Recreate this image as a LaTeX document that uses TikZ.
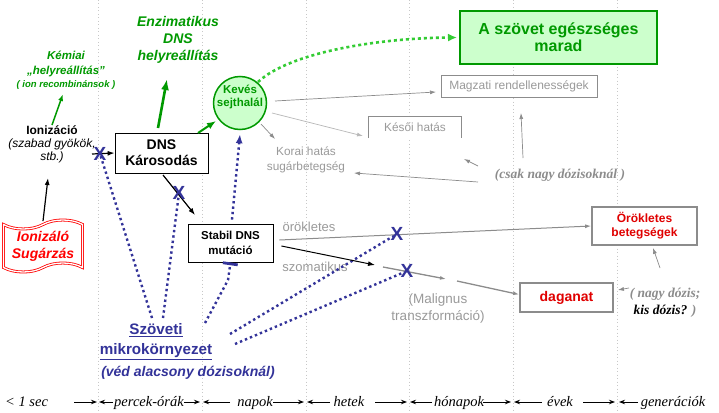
\documentclass[tikz,border=0pt]{standalone}
\usepackage{fontspec}
\setmainfont{Liberation Sans}
\newfontfamily\tmsfont{Liberation Serif}
\usetikzlibrary{arrows.meta,shapes.symbols}
\definecolor{gtext}{HTML}{009900}
\definecolor{lgreen}{HTML}{CCFFCC}
\definecolor{bgreen}{HTML}{33CC33}
\definecolor{dblue}{HTML}{333399}
\definecolor{gline}{HTML}{8C8C8C}
\definecolor{gtxt}{HTML}{9A9A9A}
\definecolor{vgr}{HTML}{C8C8C8}
\definecolor{rtxt}{HTML}{E00000}
\begin{document}
\begin{tikzpicture}[x=1pt,y=-1pt,
 vline/.style={draw=vgr,line width=0.7pt,dash pattern=on 1pt off 2.5pt},
 garrow/.style={draw=gline,line width=0.7pt,-{Latex[length=6pt,width=4pt]}},
 blkarrow/.style={draw=black,line width=1.2pt,-{Latex[length=7pt,width=5pt]}},
 grnarrow/.style={draw=gtext,line width=2pt,-{Latex[length=9pt,width=7pt]}},
 bdot/.style={draw=dblue,line width=2.4pt,dash pattern=on 2.4pt off 3pt},
 xmark/.style={text=dblue,font=\bfseries\fontsize{19}{19}\selectfont,inner sep=0pt},
 gbox/.style={draw=gline,line width=0.8pt,fill=white},
 rbox/.style={draw=gline,line width=1.8pt,fill=white,text=rtxt,align=center,inner sep=0pt},
 greytext/.style={text=gtxt,align=center,inner sep=0pt},
 blackbox/.style={draw=black,line width=0.8pt,fill=white,align=center,inner sep=0pt},
 tl/.style={font=\tmsfont\itshape\fontsize{14.5}{15}\selectfont,inner sep=0pt,anchor=base},
 tla/.style={line width=1pt,-{Stealth[length=6pt,width=4.5pt]}},
]
\path[use as bounding box,fill=white] (0,0) rectangle (719,412);
\foreach \x in {98,202,306,409,513,617} \draw[vline] (\x,0) -- (\x,412);

% ---------- nodes ----------
\node[text=gtext,align=center,font=\bfseries\itshape\fontsize{11.5}{15}\selectfont,inner sep=0pt] (kem) at (66,70)
  {Kémiai\\„helyreállítás”\\[-2pt]{\fontsize{9.5}{11}\selectfont ( ion recombinánsok )}};
\node[align=center,font=\fontsize{12}{13}\selectfont,inner sep=0pt] (ioniz) at (52,144)
  {\textbf{Ionizáció}\\\textit{(szabad gyökök,}\\\textit{stb.)}};
\node[tape,draw=red,double=white,double distance=1.3pt,line width=0.8pt,minimum width=79pt,minimum height=52pt,
  tape bend height=9pt,text=red,font=\bfseries\itshape\fontsize{14}{17}\selectfont,align=center,inner sep=0pt] (ion) at (43,246)
  {Ionizáló\\Sugárzás};
\node[text=gtext,align=center,font=\bfseries\itshape\fontsize{14}{17}\selectfont,inner sep=0pt] (enz) at (178,40)
  {Enzimatikus\\DNS\\helyreállítás};
\node[blackbox,minimum width=93pt,minimum height=40pt,font=\bfseries\fontsize{14}{16}\selectfont] (dns) at (161.5,153)
  {DNS\\Károsodás};
\node[circle,draw=gtext,line width=1.5pt,fill=lgreen,minimum size=53pt,inner sep=0pt] (kev) at (240,103) {};
\node[text=gtext,align=center,font=\bfseries\fontsize{11.5}{13}\selectfont,inner sep=0pt] (kevtxt) at (240,97) {Kevés\\sejthalál};
\node[draw=gtext,line width=2pt,fill=lgreen,minimum width=197pt,minimum height=53pt,text=gtext,align=center,
  font=\bfseries\fontsize{16}{17}\selectfont,inner sep=0pt] (healthy) at (558.5,37.5) {A szövet egészséges\\marad};
\node[gbox,minimum width=156pt,minimum height=22pt,text=gtxt,font=\fontsize{12}{14}\selectfont,inner sep=0pt] (magz) at (519,86)
  {Magzati rendellenességek};
\node[fill=white,minimum width=92pt,minimum height=21pt,text=gtxt,font=\fontsize{11.8}{14}\selectfont,inner sep=0pt] (kes) at (415,127.5)
  {Késői hatás};
\draw[draw=gline,line width=0.8pt] (kes.south west) -- (kes.north west) -- (kes.north east) -- (kes.south east);
\node[greytext,font=\fontsize{11.8}{15}\selectfont] (kor) at (306,160) {Korai hatás\\sugárbetegség};
\node[text=gline,font=\tmsfont\bfseries\itshape\fontsize{13.5}{15}\selectfont,inner sep=0pt] (csak) at (560,175) {(csak nagy dózisoknál )};
\node[blackbox,minimum width=85pt,minimum height=38pt,font=\bfseries\fontsize{11.5}{15}\selectfont] (stab) at (230.5,243)
  {Stabil DNS\\mutáció};
\node[greytext,font=\fontsize{13}{15}\selectfont] (orl) at (309,227) {örökletes};
\node[greytext,font=\fontsize{13}{15}\selectfont] (szom) at (315,267) {szomatikus};
\node[rbox,minimum width=105pt,minimum height=38pt,font=\bfseries\fontsize{12}{14}\selectfont] (orok) at (644.5,226)
  {Örökletes\\betegségek};
\node[rbox,minimum width=93pt,minimum height=29pt,font=\bfseries\fontsize{14}{16}\selectfont] (dag) at (566.5,297.5) {daganat};
\node[greytext,font=\fontsize{13.5}{17}\selectfont] (mal) at (438,308.5) {(Malignus\\transzformáció)};
\node[text=gline,align=center,font=\tmsfont\bfseries\itshape\fontsize{13.5}{17}\selectfont,inner sep=0pt] (nagy) at (665,302.5)
  {( nagy dózis;\\\textcolor{black}{kis dózis?} )};
\node[text=dblue,align=center,font=\bfseries\fontsize{15.2}{20}\selectfont,inner sep=0pt] (szov) at (156,342)
  {\underline{Szöveti}\\\underline{mikrokörnyezet}};
\node[text=dblue,font=\bfseries\itshape\fontsize{14}{16}\selectfont,inner sep=0pt] (ved) at (188,373) {(véd alacsony dózisoknál)};

% ---------- coordinates ----------
\coordinate (a1) at (48,178);
\coordinate (g1s) at (52,125); \coordinate (g1e) at (63,94);
\coordinate (i1s) at (92,154);
\coordinate (g2s) at (158,128); \coordinate (g2e) at (167,79);
\coordinate (g3s) at (198,133); \coordinate (g3e) at (216,121);
\coordinate (d1s) at (163,175); \coordinate (d1e) at (195,215);
\coordinate (k1s) at (275,101); \coordinate (k1e) at (436,92);
\coordinate (k2s) at (272,113); \coordinate (k2e) at (363,136);
\coordinate (k3s) at (261,124); \coordinate (k3e) at (275,139);
\coordinate (c1s) at (478,182); \coordinate (c1e) at (354,173);
\coordinate (c2s) at (478,166); \coordinate (c2e) at (464,159);
\coordinate (c3s) at (523,158); \coordinate (c3e) at (521,113);
\coordinate (hs) at (258,82);
\coordinate (s1e) at (375,265);
\coordinate (m1s) at (383,267); \coordinate (m1e) at (446,279);
\coordinate (m2s) at (457,281);
\coordinate (n1s) at (660,268);
\coordinate (n2s) at (629,288);
\coordinate (b1s) at (152,318);
\coordinate (b2s) at (163,318);
\coordinate (b3s) at (205,323); \coordinate (b3m) at (228,280);
\coordinate (b4s) at (230,334);
\coordinate (b5s) at (235,344);

% ---------- blue dotted influences ----------
\draw[bdot] (b1s) -- (100,154);
\draw[bdot] (b2s) -- (179,193);
\draw[bdot,-{Bar[width=15pt,line width=2.8pt]}] (b3s) -- (b3m) -- (stab.south);
\draw[bdot,-{Latex[length=9pt,width=7pt]},dblue] ([shift={(1.5pt,4pt)}]stab.north) -- ([yshift=-4pt]kev.south);
\draw[bdot] (b4s) -- (397,234);
\draw[bdot] (b5s) -- (407,271);

% ---------- black / green / grey arrows ----------
\draw[blkarrow] ([yshift=3pt]ion.north) -- (a1);
\draw[draw=gtext,line width=1.5pt,-{Latex[length=7pt,width=5pt]}] (g1s) -- (g1e);
\draw[blkarrow] (i1s) -- (dns.west);
\draw[draw=gtext,line width=2.6pt,-{Latex[length=11pt,width=8pt]}] (g2s) -- (g2e);
\draw[grnarrow] (g3s) -- (g3e);
\draw[blkarrow] (d1s) -- (d1e);
\draw[draw=bgreen,line width=2.6pt,dash pattern=on 3pt off 3pt,-{Latex[length=9pt,width=8pt]}] (hs) .. controls (290,52) and (380,38) .. ([xshift=-2pt]healthy.west);
\draw[garrow] (k1s) -- (k1e);
\draw[garrow,draw=gtxt!70] (k2s) -- (k2e);
\draw[garrow] (k3s) -- (k3e);
\draw[garrow] (c1s) -- (c1e);
\draw[garrow] (c2s) -- (c2e);
\draw[garrow] (c3s) -- (c3e);
\draw[garrow,line width=1pt] ([shift={(6pt,3pt)}]stab.east) -- (orok.west);
\draw[blkarrow,line width=1pt] ([shift={(8pt,-3pt)}]stab.east) -- (s1e);
\draw[garrow,line width=1.3pt] (m1s) -- (m1e);
\draw[garrow,line width=1.3pt] (m2s) -- ([yshift=3pt]dag.west);
\draw[garrow] (n1s) -- ([shift={(8.5pt,-2pt)}]orok.south);
\draw[garrow] (n2s) -- ([shift={(4pt,7.5pt)}]dag.east);

% ---------- X marks ----------
\node[xmark] (x1) at (100,154) {X};
\node[xmark] (x2) at (179,193) {X};
\node[xmark] (x3) at (397,234) {X};
\node[xmark] (x4) at (407,271) {X};

% ---------- timeline ----------
\node[tl,anchor=base west] (t0) at (5,406) {< 1 sec};
\node[tl] (t1) at (149,406) {percek-órák};
\node[tl] (t2) at (255,406) {napok};
\node[tl] (t3) at (349,406) {hetek};
\node[tl] (t4) at (459,406) {hónapok};
\node[tl] (t5) at (560,406) {évek};
\node[tl] (t6) at (673,406) {generációk};
\foreach \a/\b in {74/97,113/99,184/200,230/203,273/304,330/307,375/407,432/410,483/511,542/514,583/615,638/619}
  \draw[tla] (\a,402) -- (\b,402);
\end{tikzpicture}
\end{document}
